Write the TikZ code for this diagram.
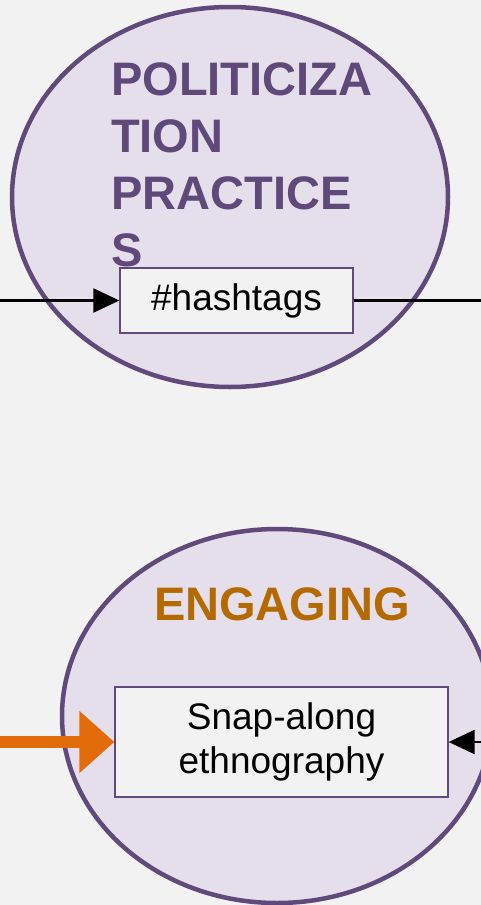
\documentclass[tikz,border=0pt]{standalone}
\usepackage{fontspec}
\setmainfont{Liberation Sans}
\usetikzlibrary{arrows.meta,shapes.geometric}
\definecolor{bg}{HTML}{F2F2F2}
\definecolor{ellfill}{HTML}{E5DFEC}
\definecolor{purp}{HTML}{604A7B}
\definecolor{headpurp}{HTML}{5F497A}
\definecolor{headorange}{HTML}{B46A00}
\definecolor{arroworange}{HTML}{E36C0A}
\tikzset{
  x=1pt, y=-1pt,
  bigell/.style={ellipse, draw=purp, line width=4.5pt, fill=ellfill, inner sep=0pt},
  itembox/.style={rectangle, draw=purp, line width=1.3pt, fill=bg, inner sep=0pt, align=center, font=\fontsize{37}{44}\selectfont},
  heading/.style={inner sep=0pt, font=\fontsize{47}{57}\selectfont\bfseries},
  blackarrow/.style={draw=black, line width=2.2pt, -{Triangle[length=26pt,width=24pt]}},
  plainline/.style={draw=black, line width=2.2pt},
  orangearrow/.style={draw=arroworange, line width=12pt, -{Triangle[length=35pt,width=60pt]}},
}
\begin{document}
\begin{tikzpicture}
\useasboundingbox (0,0) rectangle (481,905);
\fill[bg] (0,0) rectangle (481,905);
\clip (0,0) rectangle (481,905);
% top ellipse
\node[bigell, minimum width=436pt, minimum height=380pt] (topell) at (230,197) {};
\node[heading, text=headpurp, anchor=base west, align=left] (toptitle) at (111,266) {POLITICIZA\\TION\\PRACTICE\\S};
\node[itembox, minimum width=233pt, minimum height=65pt] (hash) at (236.5,300.5) {\#hashtags};
\coordinate (hin) at (0,300.5);
\coordinate (hout) at (481,300.5);
\draw[blackarrow] (hin) -- (hash.west);
\draw[plainline] (hash.east) -- (hout);
% bottom ellipse
\node[bigell, minimum width=430pt, minimum height=374pt] (botell) at (277,716) {};
\node[heading, text=headorange, anchor=base] (bottitle) at (282,620) {ENGAGING};
\node[itembox, minimum width=333pt, minimum height=110pt] (snap) at (281.5,742) {Snap-along\\ethnography};
\coordinate (oin) at (0,742);
\coordinate (rin) at (481,742);
\draw[orangearrow] (oin) -- (snap.west);
\draw[blackarrow] (rin) -- (snap.east);
\end{tikzpicture}
\end{document}
